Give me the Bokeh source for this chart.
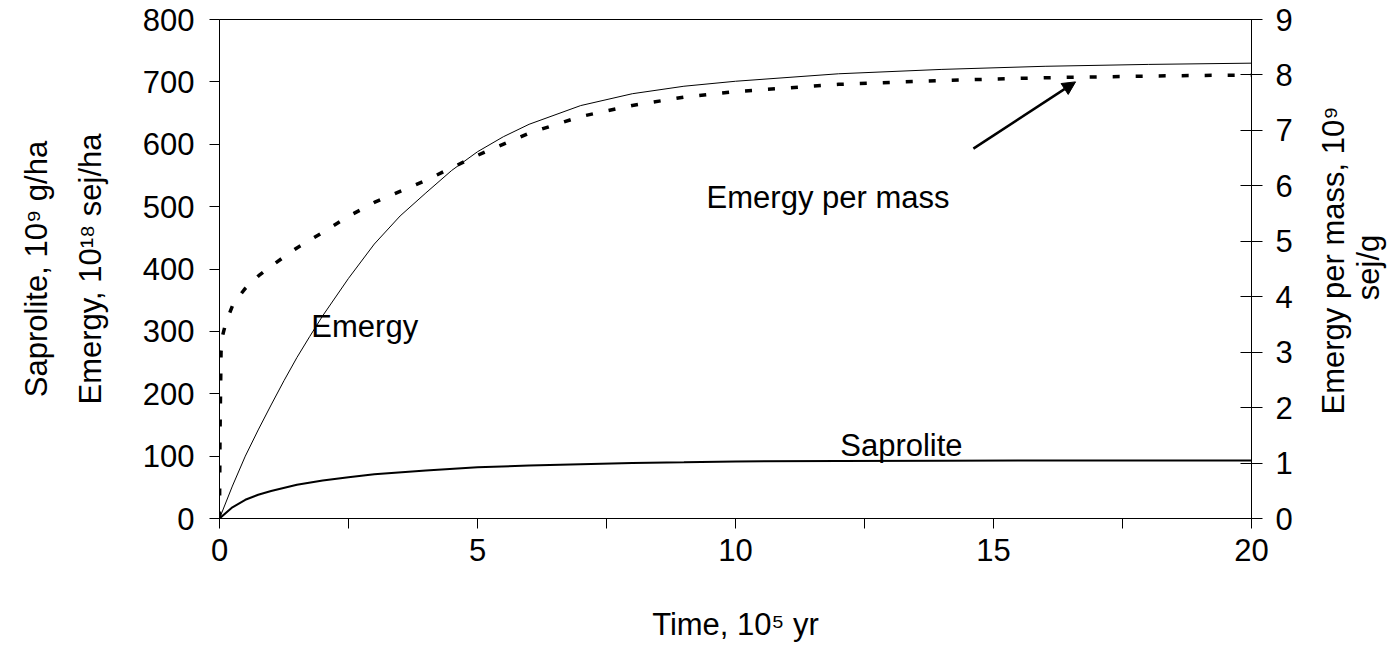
import math
from bokeh.plotting import figure
from bokeh.layouts import row
from bokeh.models import LinearAxis, Range1d, FixedTicker, Label, Arrow, NormalHead
from bokeh.embed import file_html
from bokeh.resources import INLINE

# ---- data ----
time_e = [0, 0.25, 0.5, 0.75, 1, 1.25, 1.5, 1.75, 2, 2.5, 3, 3.5, 4, 4.5, 5, 5.5, 6, 7, 8, 9, 10, 12, 14, 16, 18, 20]
emergy = [0, 52, 100, 142, 182, 221, 258, 292, 325, 385, 440, 485, 522, 558, 588, 612, 632, 662, 681, 693, 701, 713, 720, 725, 728, 730]

time_s = [0, 0.25, 0.5, 0.75, 1, 1.5, 2, 2.5, 3, 4, 5, 6, 7, 8, 9, 10, 12, 14, 16, 18, 20]
saprolite = [0, 18, 30, 38, 44, 54, 61, 66, 71, 77, 82, 85, 87, 89, 90, 91.5, 92, 92.5, 93, 93, 93]

time_m = [0, 0.01, 0.03, 0.06, 0.12, 0.27, 0.5, 0.76, 1.0, 1.34, 1.5, 2, 2.5, 3, 3.5, 4, 5, 6, 7, 8, 9, 10, 12, 14, 16, 18, 20]
emergy_per_mass = [0, 1.5, 3.0, 3.3, 3.52, 3.88, 4.15, 4.38, 4.55, 4.78, 4.88, 5.16, 5.45, 5.7, 5.9, 6.1, 6.55, 6.95, 7.25, 7.45, 7.6, 7.7, 7.83, 7.9, 7.95, 7.98, 8.0]

x_major = [0, 5, 10, 15, 20]
x_minor = [2.5, 7.5, 12.5, 17.5]
left_ticks = [0, 100, 200, 300, 400, 500, 600, 700, 800]
right_ticks = [0, 1, 2, 3, 4, 5, 6, 7, 8, 9]

FONT = "Liberation Sans"
FS = "31px"
H = 648
W_MAIN = 1310
W_SIDE = 89
FRAME_TOP = 19
FRAME_BOTTOM = 518

p = figure(width=W_MAIN, height=H, output_backend="svg", toolbar_location=None,
           x_range=Range1d(0, 20), y_range=Range1d(0, 800),
           min_border_left=219, min_border_right=W_MAIN - 1251,
           min_border_top=FRAME_TOP, min_border_bottom=H - FRAME_BOTTOM)
p.extra_y_ranges = {"right": Range1d(0, 9)}
p.xgrid.visible = False
p.ygrid.visible = False
p.outline_line_color = "black"
p.outline_line_width = 1
p.background_fill_color = "white"
p.border_fill_color = "white"

# lines
p.line(time_e, emergy, line_color="black", line_width=1)
p.line(time_s, saprolite, line_color="black", line_width=2)
p.line(time_m, emergy_per_mass, line_color="black", line_width=3.5, line_dash="7 16",
       y_range_name="right")

def style(ax):
    ax.axis_line_color = "black"
    ax.major_tick_line_color = "black"
    ax.minor_tick_line_color = "black"
    ax.major_label_text_font = FONT
    ax.major_label_text_font_size = FS
    ax.major_label_text_color = "black"
    ax.axis_label_text_font = FONT
    ax.axis_label_text_font_size = FS
    ax.axis_label_text_font_style = "normal"
    ax.axis_label_text_color = "black"

xa = p.xaxis[0]
style(xa)
xa.ticker = FixedTicker(ticks=x_major, minor_ticks=x_minor)
xa.major_tick_in = 0
xa.major_tick_out = 10
xa.minor_tick_in = 0
xa.minor_tick_out = 10
xa.major_label_standoff = 10
xa.axis_label = "Time, 10\u2075 yr"
xa.axis_label_standoff = 43

ya = p.yaxis[0]
style(ya)
ya.ticker = FixedTicker(ticks=left_ticks)
ya.major_tick_in = 0
ya.major_tick_out = 10
ya.minor_tick_line_color = None
ya.major_label_standoff = 15
ya.axis_label = "Emergy, 10\u00b9\u2078 sej/ha"
ya.axis_label_standoff = 32

ya2 = LinearAxis(ticker=FixedTicker(ticks=[]))
style(ya2)
ya2.axis_line_color = None
ya2.major_tick_line_color = None
ya2.minor_tick_line_color = None
ya2.major_tick_out = 0
ya2.major_tick_in = 0
ya2.major_label_standoff = 0
ya2.axis_label = "Saprolite, 10\u2079 g/ha"
ya2.axis_label_standoff = 16
p.add_layout(ya2, "left")

ra = LinearAxis(y_range_name="right")
style(ra)
ra.ticker = FixedTicker(ticks=right_ticks)
ra.major_tick_in = 11
ra.major_tick_out = 11
ra.minor_tick_line_color = None
ra.major_label_standoff = 13
ra.axis_label = None
p.add_layout(ra, "right")

# in-plot labels
def note(text, x, y):
    p.add_layout(Label(x=x, y=y, text=text, text_align="left", text_baseline="alphabetic",
                       text_font=FONT, text_font_size=FS, text_color="black"))

note("Emergy per mass", 9.44, 514)
note("Emergy", 1.78, 308)
note("Saprolite", 12.03, 117)

arrow_start = (14.61, 593)
arrow_end = (16.59, 700)
p.add_layout(Arrow(end=NormalHead(size=13, fill_color="black", line_color="black"),
                   x_start=arrow_start[0], y_start=arrow_start[1],
                   x_end=arrow_end[0], y_end=arrow_end[1],
                   line_color="black", line_width=2.5))

# side panel carrying the right-axis title (reads bottom to top); its frame is
# aligned with the main frame, so its y range runs in page pixels top->bottom
side = figure(width=W_SIDE, height=H, output_backend="svg", toolbar_location=None,
              x_range=Range1d(0, W_SIDE), y_range=Range1d(FRAME_BOTTOM, FRAME_TOP),
              x_axis_location=None, y_axis_location=None,
              min_border=0, min_border_left=0, min_border_right=0,
              min_border_top=FRAME_TOP, min_border_bottom=H - FRAME_BOTTOM)
side.xgrid.visible = False
side.ygrid.visible = False
side.outline_line_color = None
side.background_fill_color = "white"
side.border_fill_color = "white"
for txt, sx, sy in [("Emergy per mass, 10\u2079", 1332.5 - W_MAIN, 260),
                    ("sej/g", 1367.5 - W_MAIN, 267)]:
    side.add_layout(Label(x=sx, y=sy, text=txt, angle=math.pi / 2,
                          text_align="center", text_baseline="middle",
                          text_font=FONT, text_font_size=FS, text_color="black"))

layout = row(p, side)
open("out.html", "w").write(file_html(layout, INLINE))
